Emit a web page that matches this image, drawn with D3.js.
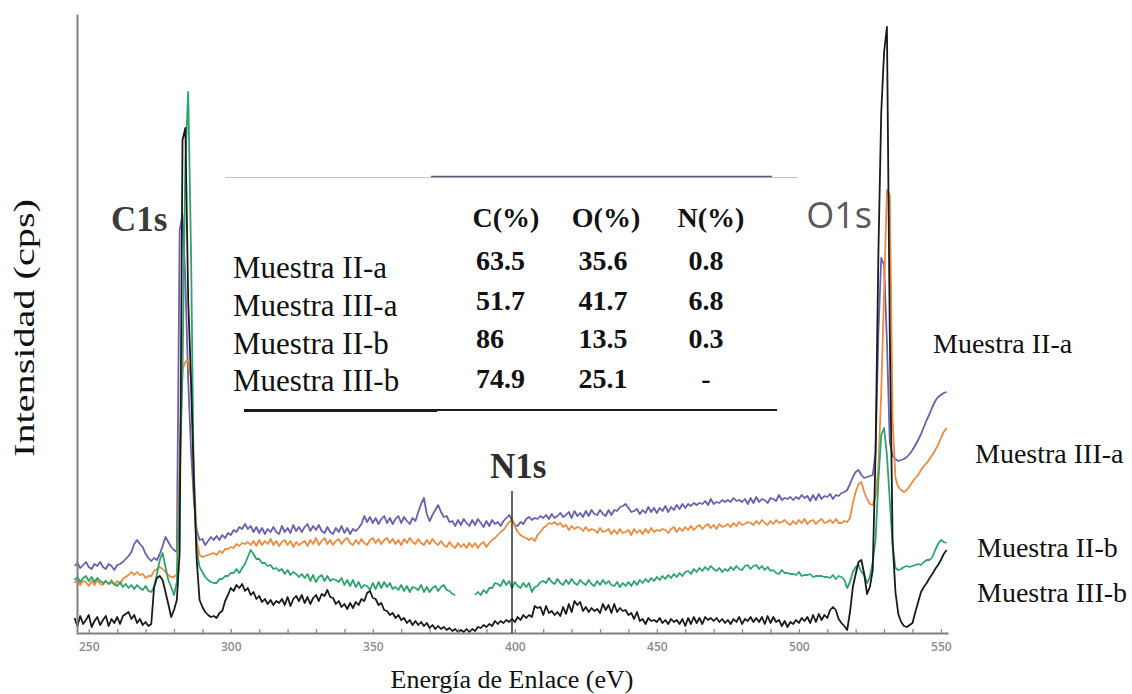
<!DOCTYPE html>
<html>
<head>
<meta charset="utf-8">
<script src="https://cdn.jsdelivr.net/npm/d3@7"></script>
<style>
  body { margin: 0; background: #fff; }
  svg { display: block; }
</style>
</head>
<body>
<svg id="chart" width="1132" height="694"></svg>
<script>
// XPS survey spectra, binding energy grid 245 ... 552 eV in 1 eV steps
const energyStart = 245;
const energyEnd = 552;

// Intensity (cps, arbitrary units) for each sample, one value per eV
const seriesIIa = [
  66, 69, 64, 67, 70, 65, 63, 68, 66, 70,
  65, 63, 68, 66, 62, 67, 68, 70, 73, 76,
  80, 88, 92, 88, 85, 78, 74, 71, 74, 72,
  78, 86, 95, 90, 85, 82, 80, 402, 417, 352,
  252, 182, 132, 102, 92, 93, 87, 91, 95, 92,
  96, 92, 97, 94, 99, 97, 102, 100, 105, 103,
  108, 103, 106, 100, 105, 99, 104, 98, 103, 100,
  105, 100, 98, 106, 100, 104, 99, 107, 101, 105,
  100, 105, 108, 101, 106, 102, 107, 101, 99, 105,
  100, 98, 104, 100, 106, 99, 104, 98, 103, 101,
  104, 108, 116, 110, 115, 109, 114, 108, 113, 116,
  109, 114, 108, 113, 116, 109, 115, 111, 108, 114,
  111, 120, 128, 134, 118, 111, 117, 122, 127, 120,
  115, 116, 110, 111, 106, 112, 107, 113, 109, 106,
  112, 107, 113, 109, 105, 111, 106, 112, 108, 110,
  106, 111, 114, 117, 112, 107, 106, 110, 108, 113,
  115, 112, 114, 113, 116, 114, 117, 113, 118, 114,
  116, 119, 115, 117, 120, 114, 121, 116, 119, 115,
  121, 116, 122, 118, 117, 122, 118, 116, 122, 117,
  122, 121, 125, 126, 128, 124, 120, 121, 123, 118,
  122, 119, 125, 120, 124, 119, 124, 121, 126, 120,
  125, 122, 127, 123, 128, 124, 128, 126, 129, 127,
  129, 128, 131, 127, 133, 128, 130, 129, 132, 130,
  132, 130, 134, 131, 132, 130, 133, 128, 134, 129,
  135, 130, 133, 132, 129, 134, 133, 131, 137, 132,
  134, 133, 135, 132, 135, 133, 137, 134, 136, 131,
  137, 132, 138, 133, 136, 135, 138, 133, 137, 136,
  139, 140, 142, 148, 155, 160, 162, 157, 154, 155,
  156, 157, 180, 300, 374, 367, 290, 190, 176, 173,
  171, 172, 173, 175, 178, 182, 187, 192, 198, 205,
  212, 218, 225, 231, 235, 237, 239, 240
];

const seriesIIIa = [
  49, 52, 47, 51, 50, 46, 51, 47, 52, 48,
  47, 51, 48, 52, 47, 51, 48, 53, 55, 57,
  60, 57, 60, 57, 58, 54, 56, 56, 61, 63,
  65, 63, 60, 57, 55, 55, 58, 182, 262, 270,
  272, 252, 162, 92, 77, 75, 76, 77, 78, 79,
  77, 81, 79, 83, 83, 85, 84, 88, 86, 89,
  88, 90, 87, 91, 86, 92, 87, 91, 88, 93,
  87, 91, 86, 90, 92, 87, 91, 85, 90, 87,
  89, 91, 86, 92, 88, 94, 87, 91, 94, 88,
  92, 87, 91, 93, 88, 92, 94, 89, 87, 92,
  88, 93, 89, 87, 92, 94, 89, 93, 88, 92,
  94, 89, 93, 88, 92, 87, 93, 89, 94, 90,
  88, 93, 89, 87, 92, 88, 93, 89, 87, 91,
  87, 85, 90, 86, 84, 89, 85, 88, 84, 89,
  85, 89, 84, 88, 90, 85, 89, 92, 94, 97,
  100, 102, 106, 110, 112, 106, 100, 97, 95, 94,
  92, 94, 91, 97, 100, 104, 106, 109, 108, 110,
  107, 109, 105, 107, 102, 106, 103, 105, 104, 101,
  105, 101, 103, 102, 99, 104, 100, 101, 103, 98,
  102, 98, 103, 99, 100, 102, 97, 103, 99, 102,
  98, 103, 99, 104, 100, 102, 101, 103, 102, 99,
  103, 105, 100, 104, 101, 105, 102, 106, 102, 105,
  107, 103, 106, 108, 104, 107, 103, 108, 105, 106,
  108, 105, 109, 106, 110, 107, 108, 110, 109, 107,
  111, 108, 112, 109, 107, 111, 108, 112, 109, 110,
  112, 109, 107, 111, 108, 112, 109, 113, 108, 111,
  112, 108, 111, 113, 109, 110, 112, 109, 113, 109,
  109, 111, 110, 114, 129, 140, 148, 150, 140, 133,
  128, 127, 135, 165, 240, 340, 442, 437, 212, 154,
  145, 142, 140, 142, 146, 150, 154, 157, 162, 166,
  169, 173, 177, 182, 187, 194, 200, 204
];

const seriesIIb = [
  52, 55, 50, 54, 56, 51, 55, 50, 54, 51,
  49, 51, 48, 50, 48, 46, 50, 45, 48, 44,
  47, 43, 47, 44, 42, 46, 41, 40, 45, 58,
  72, 79, 65, 52, 45, 37, 50, 150, 260, 470,
  540, 380, 140, 82, 65, 60, 55, 52, 50, 49,
  49, 53, 53, 56, 56, 59, 59, 63, 59, 64,
  68, 75, 82, 78, 73, 73, 69, 69, 66, 67,
  63, 64, 61, 63, 58, 62, 57, 60, 58, 55,
  58, 54, 58, 51, 57, 50, 55, 57, 51, 56,
  51, 53, 52, 50, 54, 47, 52, 46, 52, 45,
  50, 44, 47, 46, 42, 49, 43, 50, 44, 50,
  45, 49, 43, 45, 42, 47, 41, 46, 40, 45,
  44, 42, 47, 40, 45, 40, 44, 46, 41, 45,
  47, 42, 41, 38, 37, null, null, null, null, null,
  null, 37, 40, 37, 42, 39, 44, 44, 49, 48,
  46, 52, 47, 51, 44, 50, 46, 44, 49, 45,
  49, 40, 45, 46, 50, 51, 49, 54, 50, 48,
  53, 49, 47, 52, 48, 53, 49, 47, 52, 49,
  47, 52, 48, 46, 51, 47, 52, 48, 51, 47,
  46, 50, 45, 49, 46, 50, 46, 51, 47, 52,
  49, 53, 50, 54, 51, 55, 52, 56, 53, 57,
  54, 58, 55, 59, 56, 60, 61, 58, 63, 60,
  64, 61, 65, 62, 66, 63, 61, 64, 60, 63,
  61, 65, 62, 66, 63, 62, 66, 67, 63, 66,
  67, 63, 66, 62, 65, 61, 62, 59, 58, 62,
  59, 59, 58, 58, 57, 60, 56, 57, 57, 58,
  55, 56, 56, 56, 55, 55, 54, 57, 53, 56,
  55, 52, 44, 50, 60, 65, 67, 60, 57, 49,
  55, 70, 92, 152, 197, 204, 177, 132, 87, 64,
  62, 63, 65, 66, 65, 66, 67, 68, 67, 70,
  72, 72, 75, 82, 88, 92, 90, 89
];

const seriesIIIb = [
  14, 6, 16, 8, 12, 17, 5, 11, 15, 7,
  12, 16, 6, 13, 9, 15, 8, 16, 18, 20,
  13, 17, 9, 13, 7, 10, 6, 8, 45, 54,
  56, 52, 40, 28, 15, 22, 32, 80, 492, 504,
  332, 252, 152, 72, 32, 25, 20, 17, 15, 16,
  14, 19, 21, 31, 37, 44, 41, 47, 44, 48,
  41, 44, 37, 40, 33, 36, 30, 33, 28, 32,
  27, 31, 29, 33, 27, 35, 26, 33, 36, 31,
  37, 29, 35, 28, 34, 37, 31, 38, 36, 42,
  35, 34, 28, 31, 25, 28, 23, 29, 24, 30,
  27, 33, 31, 39, 41, 34, 33, 27, 29, 22,
  21, 17, 19, 14, 17, 12, 14, 9, 12, 7,
  11, 7, 10, 6, 9, 4, 7, 3, 6, 3,
  5, 2, 4, 1, 3, 0, 2, 0, 3, 0,
  3, 1, 5, 4, 7, 5, 8, 6, 11, 8,
  11, 9, 12, 10, 13, 10, 15, 12, 17, 14,
  17, 15, 26, 24, 25, 17, 26, 19, 21, 17,
  20, 16, 25, 18, 28, 20, 31, 27, 30, 21,
  25, 20, 24, 21, 23, 19, 28, 22, 27, 19,
  28, 20, 24, 21, 22, 17, 19, 13, 20, 11,
  13, 8, 14, 11, 12, 10, 14, 9, 12, 8,
  13, 10, 12, 8, 13, 6, 14, 8, 15, 9,
  14, 8, 15, 12, 14, 11, 14, 10, 13, 9,
  12, 8, 13, 10, 15, 8, 13, 11, 15, 10,
  14, 10, 15, 8, 16, 9, 15, 10, 12, 6,
  11, 5, 10, 8, 12, 9, 14, 11, 15, 9,
  17, 10, 18, 12, 17, 14, 22, 25, 22, 13,
  9, 6, 2, 20, 45, 58, 70, 72, 58, 38,
  45, 62, 180, 380, 520, 580, 605, 300, 90, 40,
  18, 10, 6, 5, 7, 9, 20, 30, 40, 45,
  49, 54, 58, 63, 67, 72, 78, 82
];

// Sample names and curve colours
const sampleNames = ["Muestra II-a", "Muestra III-a", "Muestra II-b", "Muestra III-b"];
const sampleColors = ["#6a5fb0", "#f08a3c", "#2ba56c", "#1a1a1a"];

// Surface composition table
const tableHeaders = ["C(%)", "O(%)", "N(%)"];
const carbonPct = ["63.5", "51.7", "86", "74.9"];
const oxygenPct = ["35.6", "41.7", "13.5", "25.1"];
const nitrogenPct = ["0.8", "6.8", "0.3", "-"];

// Core-level peak labels
const peakLabels = ["C1s", "N1s", "O1s"];
const n1sEnergy = 399;

// Axis ticks
const minorTicks = d3.range(250, 551, 10);
const xTitle = "Energía de Enlace (eV)";
const yTitle = "Intensidad (cps)";

const svg = d3.select("#chart");
const serif = "'Liberation Serif', 'Times New Roman', serif";

const x = d3.scaleLinear().domain([245.5, 552.5]).range([76, 948]);
const y = d3.scaleLinear().domain([0, 618]).range([632, 14]);

const energies = d3.range(energyStart, energyEnd + 1);
const allSeries = [seriesIIa, seriesIIIa, seriesIIb, seriesIIIb];

// Spectra
const line = d3.line()
  .defined(d => d.v != null)
  .x(d => x(d.e))
  .y(d => y(d.v));

svg.append("g").selectAll("path")
  .data(allSeries.map((s, i) => ({ color: sampleColors[i], pts: s.map((v, j) => ({ e: energies[j], v })) })))
  .join("path")
  .attr("d", d => line(d.pts))
  .attr("fill", "none")
  .attr("stroke", d => d.color)
  .attr("stroke-width", 1.8)
  .attr("stroke-linejoin", "round");

// Axes
const xAxis = d3.axisBottom(x)
  .tickValues(minorTicks)
  .tickSizeInner(-4)
  .tickSizeOuter(0)
  .tickPadding(9)
  .tickFormat(d => d % 50 === 0 ? d : "");

const gx = svg.append("g").attr("transform", "translate(0,633)").call(xAxis);
gx.select(".domain").attr("stroke", "#808080").attr("stroke-width", 2.2);
gx.selectAll(".tick line").attr("stroke", "#8a8a8a").attr("stroke-width", 1.3);
gx.selectAll(".tick text")
  .attr("fill", "#8c8c8c")
  .style("font-family", "'Open Sans', 'DejaVu Sans', sans-serif")
  .style("font-size", "12px")
  .style("font-weight", "600");

const gy = svg.append("g").attr("transform", "translate(77,0)")
  .call(d3.axisLeft(y).tickValues([]).tickSizeOuter(0));
gy.select(".domain").attr("stroke", "#808080").attr("stroke-width", 2);

// Axis titles
svg.append("text")
  .attr("x", 512).attr("y", 688)
  .attr("text-anchor", "middle")
  .style("font-family", serif).style("font-size", "26px")
  .attr("fill", "#111")
  .text(xTitle);

svg.append("text")
  .attr("transform", "translate(34,328) rotate(-90)")
  .attr("text-anchor", "middle")
  .attr("textLength", 258)
  .attr("lengthAdjust", "spacingAndGlyphs")
  .style("font-family", serif).style("font-size", "29px")
  .attr("fill", "#111")
  .text(yTitle);

// N1s marker line
svg.append("line")
  .attr("x1", x(n1sEnergy)).attr("x2", x(n1sEnergy))
  .attr("y1", 491).attr("y2", 633)
  .attr("stroke", "#111").attr("stroke-width", 1.3);

// Peak labels
svg.append("text").attr("x", 111).attr("y", 231)
  .style("font-family", serif).style("font-size", "35px").style("font-weight", "bold")
  .attr("fill", "#3c3c3c").text(peakLabels[0]);

svg.append("text").attr("x", 490).attr("y", 478)
  .style("font-family", serif).style("font-size", "35px").style("font-weight", "bold")
  .attr("fill", "#2e2e2e").text(peakLabels[1]);

svg.append("text").attr("x", 872).attr("y", 228)
  .attr("text-anchor", "end")
  .style("font-family", "'Open Sans', sans-serif").style("font-size", "36px")
  .attr("fill", "#5a5a5a").text(peakLabels[2]);

// Series labels on the right
const sideLabelPos = [[933, 353], [975, 463], [977, 557], [977, 602]];
svg.append("g").selectAll("text")
  .data(sampleNames)
  .join("text")
  .attr("x", (d, i) => sideLabelPos[i][0])
  .attr("y", (d, i) => sideLabelPos[i][1])
  .style("font-family", serif).style("font-size", "28px")
  .attr("fill", "#111")
  .text(d => d);

// Composition table
const table = svg.append("g");
table.append("line").attr("x1", 225).attr("x2", 798).attr("y1", 177.5).attr("y2", 177.5)
  .attr("stroke", "#c4c4c8").attr("stroke-width", 1.2);
table.append("line").attr("x1", 431).attr("x2", 772).attr("y1", 176.5).attr("y2", 176.5)
  .attr("stroke", "#5c5f70").attr("stroke-width", 1.3);
table.append("line").attr("x1", 244).attr("x2", 777).attr("y1", 410).attr("y2", 410)
  .attr("stroke", "#1c1c1c").attr("stroke-width", 2);
table.append("line").attr("x1", 244).attr("x2", 437).attr("y1", 410.5).attr("y2", 410.5)
  .attr("stroke", "#1c1c1c").attr("stroke-width", 3.2);

const headerX = [506, 606, 711];
table.append("g").selectAll("text")
  .data(tableHeaders)
  .join("text")
  .attr("x", (d, i) => headerX[i]).attr("y", 227)
  .attr("text-anchor", "middle")
  .style("font-family", serif).style("font-size", "28px").style("font-weight", "bold")
  .attr("fill", "#111")
  .text(d => d);

const rowBase = [278, 316, 354, 391];
const valueBase = [270, 310, 348, 388];

table.append("g").selectAll("text")
  .data(sampleNames)
  .join("text")
  .attr("x", 233).attr("y", (d, i) => rowBase[i])
  .style("font-family", serif).style("font-size", "31px")
  .attr("fill", "#111")
  .text(d => d);

const valueCols = [
  { vals: carbonPct, x: 476, anchor: "start" },
  { vals: oxygenPct, x: 603, anchor: "middle" },
  { vals: nitrogenPct, x: 706, anchor: "middle" }
];
valueCols.forEach(col => {
  table.append("g").selectAll("text")
    .data(col.vals)
    .join("text")
    .attr("x", col.x).attr("y", (d, i) => valueBase[i])
    .attr("text-anchor", col.anchor)
    .style("font-family", serif).style("font-size", "28px").style("font-weight", "bold")
    .attr("fill", "#111")
    .text(d => d);
});
</script>
</body>
</html>
